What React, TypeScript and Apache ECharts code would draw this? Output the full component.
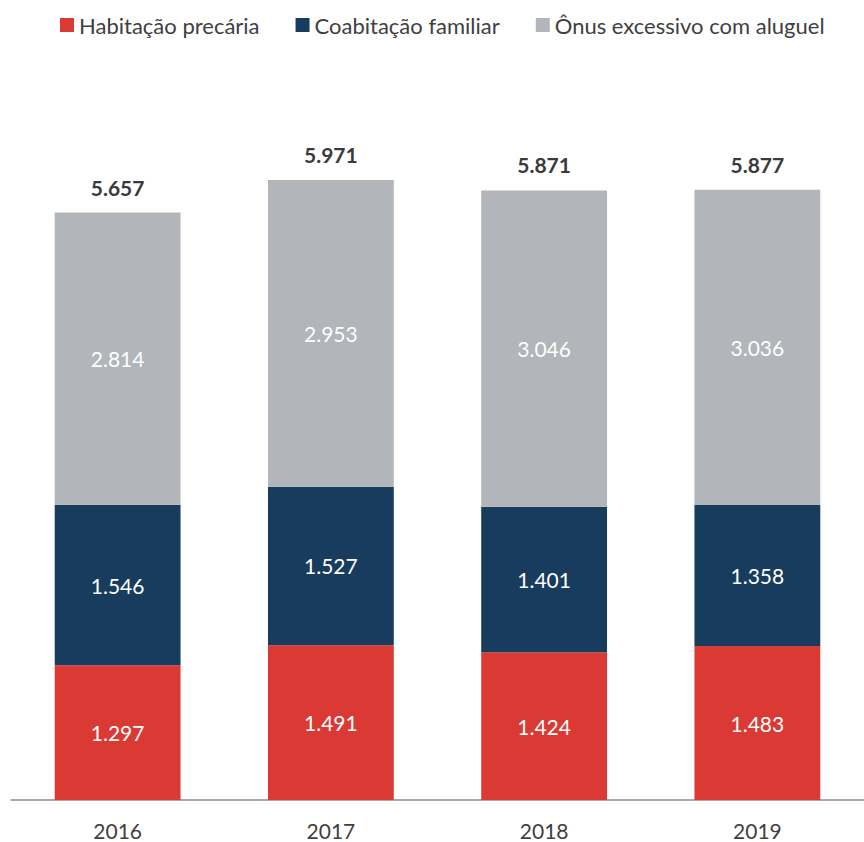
import React, { useEffect, useRef } from "react";
import * as echarts from "echarts";

const years = ["2016", "2017", "2018", "2019"];
const habitacaoPrecaria = [1297, 1491, 1424, 1483];
const coabitacaoFamiliar = [1546, 1527, 1401, 1358];
const onusExcessivo = [2814, 2953, 3046, 3036];
const totals = [5657, 5971, 5871, 5877];

const fmt = (v: number) => v.toLocaleString("pt-BR");
const FONT = "Lato";

export default function App() {
  const ref = useRef<HTMLDivElement>(null);
  useEffect(() => {
    document.body.style.margin = "0";
    if (!ref.current) return;
    const chart = echarts.init(ref.current, undefined, { renderer: "svg" });
    const inner = {
      show: true,
      position: "inside",
      color: "#ffffff",
      fontSize: 21,
      fontFamily: FONT,
      formatter: (p: any) => fmt(p.value),
    };
    chart.setOption({
      animation: false,
      textStyle: { fontFamily: FONT },
      legend: {
        data: ["Habitação precária", "Coabitação familiar", "Ônus excessivo com aluguel"],
        left: 55,
        top: 9,
        icon: "rect",
        itemWidth: 14,
        itemHeight: 14,
        itemGap: 36,
        textStyle: { fontSize: 22, color: "#404040", fontFamily: FONT },
      },
      grid: { left: 11, top: 177, width: 856, height: 623 },
      xAxis: {
        type: "category",
        data: years,
        axisLine: { lineStyle: { color: "#8c8c8c", width: 1.5 } },
        axisTick: { show: false },
        axisLabel: { fontSize: 21, color: "#404040", margin: 20, fontFamily: FONT },
      },
      yAxis: { type: "value", min: 0, max: 6000, show: false, splitLine: { show: false } },
      series: [
        {
          name: "Habitação precária",
          type: "bar",
          stack: "t",
          barWidth: "59%",
          data: habitacaoPrecaria,
          itemStyle: { color: "#DA3934" },
          label: inner,
        },
        {
          name: "Coabitação familiar",
          type: "bar",
          stack: "t",
          data: coabitacaoFamiliar,
          itemStyle: { color: "#183C5E" },
          label: inner,
        },
        {
          name: "Ônus excessivo com aluguel",
          type: "bar",
          stack: "t",
          data: onusExcessivo,
          itemStyle: { color: "#B2B5B9" },
          label: inner,
        },
        {
          name: "Total",
          type: "bar",
          stack: "t",
          data: totals.map(() => 0),
          itemStyle: { color: "transparent" },
          label: {
            show: true,
            position: "top",
            distance: 15,
            color: "#3a3a3a",
            fontWeight: "bold",
            fontSize: 21,
            fontFamily: FONT,
            formatter: (p: any) => fmt(totals[p.dataIndex]),
          },
        },
      ],
    });
    return () => chart.dispose();
  }, []);
  return <div ref={ref} style={{ width: 864, height: 842 }} />;
}
